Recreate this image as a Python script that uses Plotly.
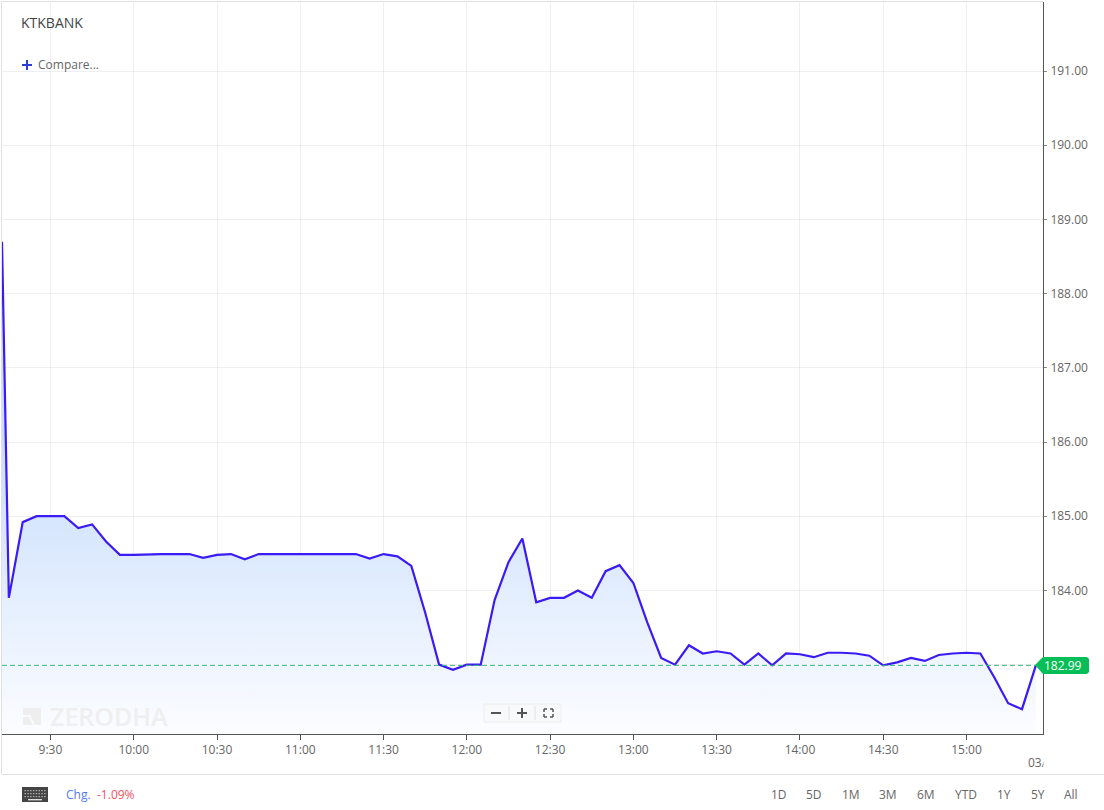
import plotly.graph_objects as go

symbol = "KTKBANK"
day = "2024-01-03 "
times = ["09:12:32"] + [f"{(9*60+15+5*k)//60:02d}:{(9*60+15+5*k)%60:02d}" for k in range(75)]
closes = [188.70,
    183.90, 184.92, 185.00, 185.00, 185.00, 184.84, 184.89, 184.66, 184.48, 184.48,
    184.49, 184.49, 184.49, 184.49, 184.44, 184.48, 184.49, 184.42, 184.49, 184.49,
    184.48, 184.48, 184.48, 184.49, 184.49, 184.49, 184.43, 184.49, 184.46, 184.33,
    183.70, 183.00, 182.93, 183.00, 183.00, 183.87, 184.38, 184.70, 183.84, 183.90,
    183.90, 184.00, 183.90, 184.26, 184.34, 184.10, 183.57, 183.09, 183.00, 183.26,
    183.15, 183.18, 183.15, 183.00, 183.15, 182.99, 183.15, 183.14, 183.10, 183.16,
    183.16, 183.15, 183.12, 182.99, 183.03, 183.09, 183.05, 183.13, 183.15, 183.16,
    183.15, 182.83, 182.48, 182.40, 182.99]
last_price = 182.99
x_ticks = ["09:30", "10:00", "10:30", "11:00", "11:30", "12:00", "12:30", "13:00", "13:30", "14:00", "14:30", "15:00"]
x_labels = ["9:30", "10:00", "10:30", "11:00", "11:30", "12:00", "12:30", "13:00", "13:30", "14:00", "14:30", "15:00"]
y_ticks = [183, 184, 185, 186, 187, 188, 189, 190, 191]
y_labels = ["", "184.00", "185.00", "186.00", "187.00", "188.00", "189.00", "190.00", "191.00"]
ranges = ["1D", "5D", "1M", "3M", "6M", "YTD", "1Y", "5Y", "All"]
change = "-1.09%"

W, H = 1104, 810
L, R, T, B = 2, 1043, 2, 734
FONT = "Open Sans"
GREY = "#666666"

def px(x):
    return (x - L) / (R - L)
def py(y):
    return 1 - (y - T) / (B - T)

fig = go.Figure(go.Scatter(
    x=[day + t for t in times], y=closes, mode="lines",
    line=dict(color="#3a1bf5", width=2.2), fill="tozeroy",
    fillgradient=dict(type="vertical", start=186.0, stop=182.05,
                      colorscale=[[0, "#c9defd"], [1, "#fcfdff"]]),
    hoverinfo="skip", showlegend=False,
))

shapes = []
def rect(x0, y0, x1, y1, fill, line=None, lw=0):
    shapes.append(dict(type="rect", xref="paper", yref="paper", x0=px(x0), x1=px(x1), y0=py(y0), y1=py(y1),
                       fillcolor=fill, line=dict(color=line or fill, width=lw), layer="above"))
def seg(x0, y0, x1, y1, color, lw=1):
    shapes.append(dict(type="line", xref="paper", yref="paper", x0=px(x0), x1=px(x1), y0=py(y0), y1=py(y1),
                       line=dict(color=color, width=lw), layer="above"))
def poly(pts, fill):
    d = "M " + " L ".join(f"{px(a):.5f} {py(b):.5f}" for a, b in pts) + " Z"
    shapes.append(dict(type="path", xref="paper", yref="paper", path=d, fillcolor=fill, line=dict(width=0), layer="above"))

# frame
seg(1, 1.5, 1043, 1.5, "#e0e0e0")
seg(1.5, 1, 1.5, 774, "#e0e0e0")
seg(1.5, 774.5, 1104, 774.5, "#e0e0e0")
# last price line
shapes.append(dict(type="line", xref="paper", yref="y", x0=0, x1=1, y0=last_price, y1=last_price,
                   line=dict(color="#3cb878", width=1, dash="5px,3px"), layer="above"))
# price tag
poly([(1035, 665), (1043, 657), (1087, 657), (1089, 659), (1089, 672), (1087, 674), (1043, 674)], "#06be57")
# compare plus
seg(22, 65, 32, 65, "#2d3fd3", 2)
seg(27, 60, 27, 70, "#2d3fd3", 2)
# watermark icon
poly([(23, 708), (41, 708), (41, 725), (35, 725), (30, 715), (23, 715)], "#eeeeee")
poly([(23, 717), (29, 717), (33, 725), (23, 725)], "#eeeeee")
# zoom control
rect(484, 704, 561, 722, "#f8f9fb", "#eeeeee", 1)
seg(509, 706, 509, 720, "#e2e2e2")
seg(535, 706, 535, 720, "#e2e2e2")
seg(491, 713, 501, 713, "#555555", 2)
seg(517, 713, 527, 713, "#555555", 2)
seg(522, 708, 522, 718, "#555555", 2)
for cx, cy, dx, dy in [(544, 709, 1, 1), (553, 709, -1, 1), (544, 717, 1, -1), (553, 717, -1, -1)]:
    seg(cx, cy, cx + 3 * dx, cy, "#555555", 1.5)
    seg(cx, cy, cx, cy + 3 * dy, "#555555", 1.5)
# keyboard icon
rect(22, 787, 48, 802, "#444444")
for row in (790, 793, 796):
    for i in range(8):
        rect(24.5 + i * 2.8, row, 26 + i * 2.8, row + 1.2, "#aaaaaa")
rect(28, 799, 42, 800.4, "#dddddd")

def text(x, y, s, color=GREY, size=12, anchor="left", weight=None):
    f = dict(family=FONT, size=size, color=color)
    if weight:
        f["weight"] = weight
    fig.add_annotation(xref="paper", yref="paper", x=px(x), y=py(y), text=s, showarrow=False,
                       xanchor=anchor, yanchor="middle", font=f, align=anchor, borderpad=0, borderwidth=0)

text(21, 23, symbol, "#444444", 14)
text(38, 64.6, "Compare...", GREY, 12)
text(50, 716, "ZERODHA", "#efefef", 25, weight=600)
text(1062.5, 665.5, f"{last_price:.2f}", "#ffffff", 12, "center")
text(1028, 762, "03/", GREY, 12)
# the date label is cut off at the edge of the chart
fig.add_annotation(xref="paper", yref="paper", x=px(1043), y=py(762), text=" ", showarrow=False,
                   xanchor="left", yanchor="middle", width=10, height=18, bgcolor="#ffffff", borderpad=0)
text(66, 794.5, "Chg.", "#4f7bf5", 12)
text(97, 794.5, change, "#f4525f", 12)
for cx, s in zip([779, 814, 851, 888, 926, 966, 1004, 1038, 1071], ranges):
    text(cx, 794.5, s, GREY, 12, "center")

fig.update_layout(
    width=W, height=H, margin=dict(l=L, r=W - R, t=T, b=H - B, pad=0),
    paper_bgcolor="#ffffff", plot_bgcolor="#ffffff",
    font=dict(family=FONT, size=12, color=GREY),
    shapes=shapes, hovermode=False,
    xaxis=dict(type="date", range=[day + "09:12:32", day + "15:27:34"],
               tickmode="array", tickvals=[day + t for t in x_ticks], ticktext=x_labels,
               ticks="outside", ticklen=5, tickcolor="#555555", tickwidth=1, tickangle=0,
               showline=True, linecolor="#555555", linewidth=1,
               showgrid=True, gridcolor="rgba(150,160,175,0.17)", gridwidth=1, zeroline=False,
               tickfont=dict(family=FONT, size=12, color=GREY)),
    yaxis=dict(side="right", range=[182.065, 191.93],
               tickmode="array", tickvals=y_ticks, ticktext=y_labels,
               ticks="outside", ticklen=3, tickcolor="#888888", tickwidth=1, ticklabelstandoff=1,
               showline=True, linecolor="#555555", linewidth=1,
               showgrid=True, gridcolor="rgba(150,160,175,0.17)", gridwidth=1, zeroline=False,
               tickfont=dict(family=FONT, size=12, color=GREY)),
)

fig.write_html("out.html", config=dict(displayModeBar=False),
               post_script="document.body.style.margin='0';")
